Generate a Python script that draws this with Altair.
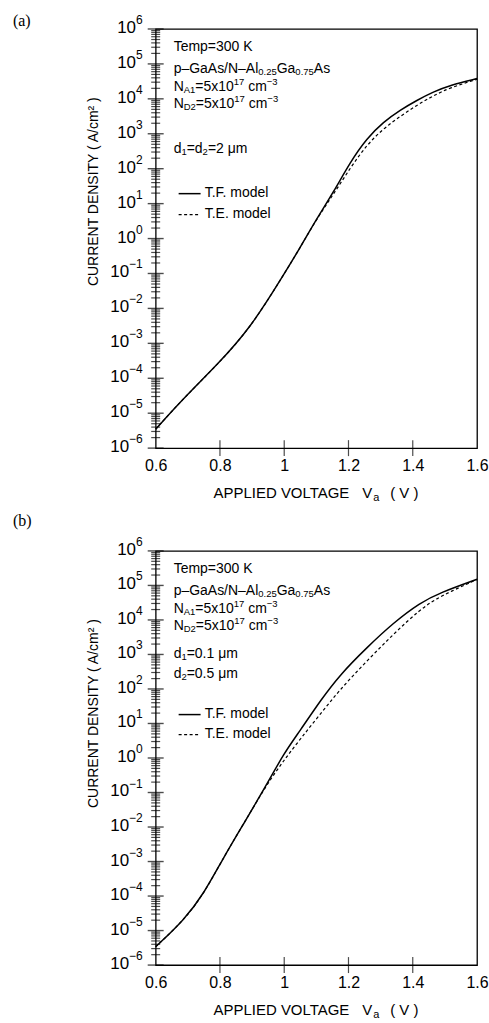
import altair as alt
import pandas as pd

FONT = "Liberation Sans"
SERIF = "Liberation Serif"
W_PLOT = 322
H_TOP = 420
H_BOT = 415

# ---- current density curves (A/cm^2) versus applied voltage (V) ----
# (a) d1 = d2 = 2 um
a_v = [0.600, 0.688, 0.792, 0.895, 0.998, 1.050, 1.102, 1.154, 1.206, 1.257,
       1.309, 1.361, 1.413, 1.464, 1.516, 1.600]
a_j_tf = [3.5e-6, 2.75e-5, 2.45e-4, 2.75e-3, 9.1e-2, 0.56, 3.8, 21.9, 158, 741,
          2190, 4790, 9120, 15850, 24550, 38000]
a_j_te = [3.5e-6, 2.75e-5, 2.45e-4, 2.75e-3, 9.1e-2, 0.56, 3.8, 19.0, 107, 479,
          1410, 3160, 6610, 12300, 20900, 36300]

# (b) d1 = 0.1 um, d2 = 0.5 um
b_v = [0.600, 0.688, 0.750, 0.812, 0.874, 0.947, 0.998, 1.050, 1.112, 1.175,
       1.257, 1.340, 1.423, 1.485, 1.600]
b_j_tf = [3.4e-6, 2.0e-5, 1.17e-4, 1.35e-3, 1.26e-2, 0.178, 1.32, 6.3, 45.7, 269,
          1585, 8300, 31600, 61700, 151000]
b_j_te = [3.4e-6, 2.0e-5, 1.17e-4, 1.35e-3, 1.26e-2, 0.178, 0.83, 3.55, 18.6, 100,
          646, 3890, 20400, 49000, 148000]

# ---- axes ----
x_ticks = [0.6, 0.8, 1.0, 1.2, 1.4, 1.6]
decades = list(range(-6, 7))

# approximate advance widths (per 1000 em) used to lay out mixed-size text runs
ADV = {" ": 278, ".": 278, "=": 584, "–": 556, "−": 584, "/": 278, "x": 500,
       "p": 556, "e": 556, "m": 833, "T": 611, "K": 667, "G": 778, "a": 556,
       "A": 667, "s": 500, "N": 722, "l": 222, "c": 500, "d": 556, "D": 722,
       "μ": 576, "F": 611, "E": 667, "o": 556, "(": 333, ")": 333, "V": 667,
       "P": 667, "L": 556, "I": 278, "O": 778}

SMALL = 9.5


def text_width(s, size):
    return sum(ADV.get(ch, 556) for ch in s) * size / 1000.0


xs = alt.Scale(domain=[0.6, 1.6], nice=False, zero=False)
ys = alt.Scale(type="log", domain=[1e-6, 1e6], nice=False)
x_axis = alt.Axis(values=x_ticks, format="~g", ticks=False, domain=False, grid=False,
                  labelFont=FONT, labelFontSize=16, labelColor="black",
                  labelPadding=9, labelFlush=False, title=None)


def runs_to_rows(lines, x0):
    """Each line is a list of (text, kind); kind n=normal, b=subscript, p=superscript."""
    rows = []
    for y, segs in lines:
        x = x0
        for txt, kind in segs:
            size = 14 if kind == "n" else SMALL
            dy = 0 if kind == "n" else (3 if kind == "b" else -5)
            lead = len(txt) - len(txt.lstrip(" "))
            x += text_width(" " * lead, size)
            body = txt.strip(" ")
            rows.append({"px": x, "py": y + dy, "text": body, "fs": size})
            x += text_width(txt[lead:], size)
    return rows


def panel(v, j_tf, j_te, note_lines, x0, tag, tag_y, h):
    tf_df = pd.DataFrame({"V": v, "J": j_tf})
    te_df = pd.DataFrame({"V": v, "J": j_te})

    tf = alt.Chart(tf_df).mark_line(color="black", strokeWidth=1.5, interpolate="basis").encode(
        x=alt.X("V:Q", scale=xs, axis=x_axis),
        y=alt.Y("J:Q", scale=ys, axis=None),
    )
    te = alt.Chart(te_df).mark_line(color="black", strokeWidth=1.2, strokeDash=[3, 2.5],
                                    interpolate="basis").encode(
        x=alt.X("V:Q", scale=xs, axis=x_axis),
        y=alt.Y("J:Q", scale=ys, axis=None),
    )

    # inward tick marks on the left and bottom edges
    major = pd.DataFrame({"J": [10.0 ** d for d in decades]})
    minor = pd.DataFrame({"J": [k * 10.0 ** d for d in decades[:-1] for k in range(2, 10)]})
    y_major = alt.Chart(major).mark_tick(color="black", orient="horizontal", size=16,
                                         thickness=1.4).encode(
        x=alt.value(0), y=alt.Y("J:Q", scale=ys, axis=None))
    y_minor = alt.Chart(minor).mark_tick(color="black", orient="horizontal", size=9,
                                         thickness=1.2).encode(
        x=alt.value(0), y=alt.Y("J:Q", scale=ys, axis=None))
    x_tk = alt.Chart(pd.DataFrame({"V": x_ticks[1:-1]})).mark_tick(
        color="black", orient="vertical", size=16, thickness=1.2).encode(
        x=alt.X("V:Q", scale=xs, axis=x_axis), y=alt.value(h))

    neg = pd.DataFrame({"J": [10.0 ** d for d in decades if d < 0]})
    pos = pd.DataFrame({"J": [10.0 ** d for d in decades if d >= 0]})
    lab_all = pd.DataFrame({"J": [10.0 ** d for d in decades],
                            "e": [("−" + str(-d)) if d < 0 else str(d) for d in decades]})
    base_neg = alt.Chart(neg).mark_text(align="right", baseline="middle", font=FONT,
                                        fontSize=17, color="black", dy=-1).encode(
        x=alt.value(-13 - text_width("−6", 12)), y=alt.Y("J:Q", scale=ys, axis=None),
        text=alt.value("10"))
    base_pos = alt.Chart(pos).mark_text(align="right", baseline="middle", font=FONT,
                                        fontSize=17, color="black", dy=-1).encode(
        x=alt.value(-13 - text_width("6", 12)), y=alt.Y("J:Q", scale=ys, axis=None),
        text=alt.value("10"))
    expo = alt.Chart(lab_all).mark_text(align="right", baseline="middle", font=FONT,
                                        fontSize=12, color="black", dy=-9).encode(
        x=alt.value(-13), y=alt.Y("J:Q", scale=ys, axis=None), text="e:N")

    one = pd.DataFrame({"k": [0]})
    leg_tf = alt.Chart(one).mark_rule(color="black", strokeWidth=1.5).encode(
        x=alt.value(x0 + 5), x2=alt.value(x0 + 27), y=alt.value(note_lines[-2][0] + 1))
    leg_te = alt.Chart(one).mark_rule(color="black", strokeWidth=1.2, strokeDash=[3, 2.5]).encode(
        x=alt.value(x0 + 5), x2=alt.value(x0 + 27), y=alt.value(note_lines[-1][0] + 1))
    y_title = alt.Chart(one).mark_text(angle=270, font=FONT, fontSize=14, color="black",
                                       align="center", baseline="middle").encode(
        x=alt.value(-62), y=alt.value(163), text=alt.value("CURRENT DENSITY ( A/cm² )"))
    tag_mark = alt.Chart(one).mark_text(font=SERIF, fontSize=16, color="black",
                                        align="left", baseline="middle").encode(
        x=alt.value(-143), y=alt.value(tag_y), text=alt.value(tag))

    data_group = alt.layer(y_minor, y_major, x_tk, tf, te, base_neg, base_pos, expo,
                           leg_tf, leg_te, y_title, tag_mark)

    rows = runs_to_rows(note_lines, x0)
    # x-axis title with subscripted "a"
    ty = h + 45
    rows += [
        {"px": 58, "py": ty, "text": "APPLIED VOLTAGE", "fs": 15},
        {"px": 207, "py": ty, "text": "V", "fs": 15},
        {"px": 218, "py": ty + 5, "text": "a", "fs": 11},
        {"px": 235, "py": ty, "text": "( V )", "fs": 15},
    ]
    notes = alt.Chart(pd.DataFrame(rows)).mark_text(align="left", baseline="middle",
                                                    font=FONT, color="black").encode(
        x=alt.X("px:Q", scale=None, axis=None),
        y=alt.Y("py:Q", scale=None, axis=None),
        size=alt.Size("fs:Q", scale=None, legend=None),
        text="text:N",
    )
    return alt.layer(data_group, notes).resolve_scale(
        x="independent", y="independent", size="independent"
    ).properties(width=W_PLOT, height=h)


top_lines = [
    (18, [("Temp=300 K", "n")]),
    (40, [("p–GaAs/N–Al", "n"), ("0.25", "b"), ("Ga", "n"), ("0.75", "b"), ("As", "n")]),
    (58, [("N", "n"), ("A1", "b"), ("=5x10", "n"), ("17", "p"), (" cm", "n"), ("−3", "p")]),
    (75, [("N", "n"), ("D2", "b"), ("=5x10", "n"), ("17", "p"), (" cm", "n"), ("−3", "p")]),
    (120, [("d", "n"), ("1", "b"), ("=d", "n"), ("2", "b"), ("=2 μm", "n")]),
    (164, [("        T.F. model", "n")]),
    (185, [("        T.E. model", "n")]),
]
bot_lines = [
    (18, [("Temp=300 K", "n")]),
    (40, [("p–GaAs/N–Al", "n"), ("0.25", "b"), ("Ga", "n"), ("0.75", "b"), ("As", "n")]),
    (58, [("N", "n"), ("A1", "b"), ("=5x10", "n"), ("17", "p"), (" cm", "n"), ("−3", "p")]),
    (75, [("N", "n"), ("D2", "b"), ("=5x10", "n"), ("17", "p"), (" cm", "n"), ("−3", "p")]),
    (103, [("d", "n"), ("1", "b"), ("=0.1 μm", "n")]),
    (123, [("d", "n"), ("2", "b"), ("=0.5 μm", "n")]),
    (163, [("        T.F. model", "n")]),
    (183, [("        T.E. model", "n")]),
]

top = panel(a_v, a_j_tf, a_j_te, top_lines, 18, "(a)", -8, H_TOP)
bottom = panel(b_v, b_j_tf, b_j_te, bot_lines, 18, "(b)", -30, H_BOT)

chart = alt.vconcat(top, bottom, spacing=103, bounds="flush").configure_view(
    stroke="black", strokeWidth=1.3
).properties(
    padding={"left": 12, "top": 11, "right": 0, "bottom": 0},
    background="white",
)

chart.save("out.html", embed_options={"renderer": "svg", "actions": False})
